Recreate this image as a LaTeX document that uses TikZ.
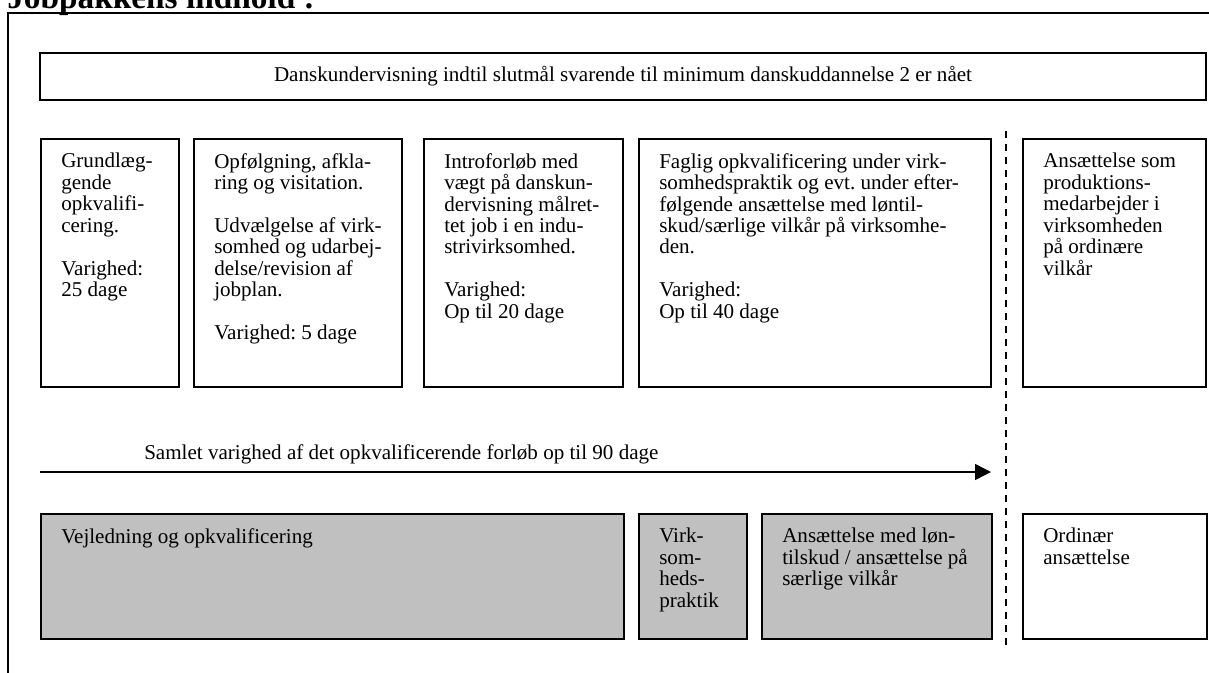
\documentclass[tikz,border=0pt]{standalone}
\usepackage{fontspec}
\setmainfont{Liberation Serif}
\usepackage{tikz}
\usetikzlibrary{calc,arrows.meta}
\definecolor{boxgrey}{RGB}{192,192,192}
\frenchspacing

\begin{document}
\begin{tikzpicture}[x=0.75pt,y=-0.75pt,
    every node/.style={font=\fontsize{15.8}{16.1}\selectfont},
    box/.style={draw,line width=1.5pt,anchor=north west,inner sep=0pt},
    greybox/.style={box,fill=boxgrey},
    boxtext/.style={anchor=north west,align=left,inner sep=0pt}]
      \useasboundingbox (0,0) rectangle (1209,672);
      \fill[white] (0,0) rectangle (1209,672);
      \clip (0,0) rectangle (1209,672);
      \node[anchor=base west,inner sep=0pt,font=\fontsize{25}{30}\selectfont\bfseries] (title) at (7,8) {Jobpakkens indhold :};
      \draw[line width=1.5pt] (8,13) rectangle (1240,720);
      \node[box,anchor=center,minimum width=874.5pt,minimum height=35.25pt] (dansk) at (623,76.5)
        {Danskundervisning indtil slutmål svarende til minimum danskuddannelse 2 er nået};
      \node[box,minimum width=103.5pt,minimum height=186pt] (grund) at (40,138) {};
      \node[box,minimum width=156pt,minimum height=186pt] (visit) at (193,138) {};
      \node[box,minimum width=149.25pt,minimum height=186pt] (intro) at (423,138) {};
      \node[box,minimum width=264pt,minimum height=186pt] (faglig) at (638,138) {};
      \node[box,minimum width=137.25pt,minimum height=186pt] (prod) at (1022,138) {};
      \node[boxtext] (grundtxt) at ($(grund.north west)+(21,15)$)
        {Grundlæg-\\gende\\opkvalifi-\\cering.\\[16.1pt]Varighed:\\25 dage};
      \node[boxtext] (visittxt) at ($(visit.north west)+(21,15)$)
        {Opfølgning, afkla-\\ring og visitation.\\[16.1pt]Udvælgelse af virk-\\somhed og udarbej-\\delse/revision af\\jobplan.\\[16.1pt]Varighed: 5 dage};
      \node[boxtext] (introtxt) at ($(intro.north west)+(21,15)$)
        {Introforløb med\\vægt på danskun-\\dervisning målret-\\tet job i en indu-\\strivirksomhed.\\[16.1pt]Varighed:\\Op til 20 dage};
      \node[boxtext] (fagligtxt) at ($(faglig.north west)+(21,15)$)
        {Faglig opkvalificering under virk-\\somhedspraktik og evt. under efter-\\følgende ansættelse med løntil-\\skud/særlige vilkår på virksomhe-\\den.\\[16.1pt]Varighed:\\Op til 40 dage};
      \node[boxtext] (prodtxt) at ($(prod.north west)+(21,15)$)
        {Ansættelse som\\produktions-\\medarbejder i\\virksomheden\\på ordinære\\vilkår};
      \coordinate (dashtop) at (1006,131);
      \coordinate (dashbot) at (1006,645);
      \draw[line width=1.1pt,dash pattern=on 5.25pt off 4.5pt] (dashtop) -- (dashbot);
      \coordinate (arrstart) at (40,472);
      \coordinate (arrend) at (991,472);
      \draw[-{Triangle[length=12pt,width=12pt]},line width=1.1pt] (arrstart) -- (arrend);
      \node[anchor=west,inner sep=0pt] (samlet) at (144,454) {Samlet varighed af det opkvalificerende forløb op til 90 dage};
      \node[greybox,minimum width=437.25pt,minimum height=93.75pt] (vejl) at (40,513) {};
      \node[greybox,minimum width=81pt,minimum height=93.75pt] (prak) at (638,513) {};
      \node[greybox,minimum width=172.5pt,minimum height=93.75pt] (loen) at (761,513) {};
      \node[box,minimum width=138pt,minimum height=93.75pt] (ordin) at (1022,513) {};
      \node[boxtext] (vejltxt) at ($(vejl.north west)+(21,15)$) {Vejledning og opkvalificering};
      \node[boxtext] (praktxt) at ($(prak.north west)+(21,15)$) {Virk-\\som-\\heds-\\praktik};
      \node[boxtext] (loentxt) at ($(loen.north west)+(21,15)$) {Ansættelse med løn-\\tilskud / ansættelse på\\særlige vilkår};
      \node[boxtext] (ordintxt) at ($(ordin.north west)+(21,15)$) {Ordinær\\ansættelse};
    \end{tikzpicture}
\end{document}
